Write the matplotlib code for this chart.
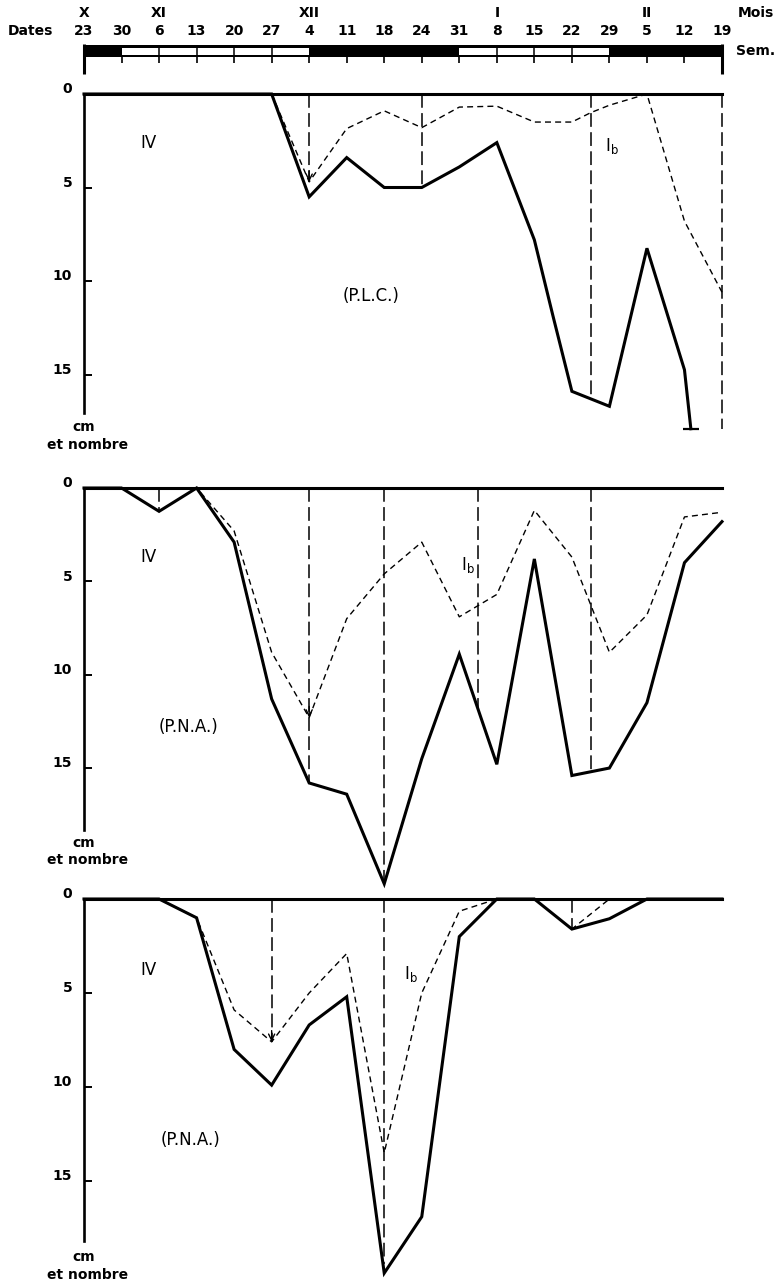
import matplotlib
matplotlib.use('Agg')
import matplotlib.pyplot as plt
from matplotlib.patches import Rectangle
from matplotlib.transforms import ScaledTranslation

plt.rcParams['font.family'] = ['DejaVu Sans']
plt.rcParams['mathtext.default'] = 'regular'

# ---------------- data ----------------
week_idx = list(range(18))
date_labels = ['23', '30', '6', '13', '20', '27', '4', '11', '18', '24',
               '31', '8', '15', '22', '29', '5', '12', '19']
month_labels = ['X', 'XI', 'XII', 'I', 'II']
month_pos = [0, 2, 6, 11, 15]
white_weeks = [(1, 6), (10, 14)]

ytick_vals = [0, 5, 10, 15]
ytick_labels = ['0', '5', '10', '15']

# panel 1 (P.L.C.)
p1_solid_x = [0, 1, 2, 3, 4, 5, 6, 7, 8, 9, 10, 11, 12, 12.5, 13, 14, 15, 16, 16.17]
p1_solid_y = [0, 0, 0, 0, 0, 0, 5.5, 3.4, 5.0, 5.0, 3.9, 2.6, 7.8, 11.9, 15.9, 16.7, 8.25, 14.75, 17.9]
p1_dash_x = [5, 6, 7, 8, 9, 10, 11, 12, 13, 13.5, 14, 15, 16, 17]
p1_dash_y = [0, 4.7, 1.85, 0.9, 1.8, 0.7, 0.65, 1.5, 1.5, 1.0, 0.6, 0, 6.8, 10.6]
p1_vl_x = [6, 9, 13.5, 17]
p1_vl_y = [4.7, 5.0, 16.3, 17.9]
p1_arrow_x = [6]
p1_arrow_y = [4.7]

# panel 2 (P.N.A.)
p2_solid_x = week_idx
p2_solid_y = [0, 0, 1.25, 0, 2.9, 11.3, 15.8, 16.4, 21.2, 14.5, 8.9, 14.8, 3.8, 15.4, 15.0, 11.5, 4.0, 1.8]
p2_dash_x = week_idx
p2_dash_y = [0, 0, 1.25, 0, 2.3, 8.8, 12.3, 7.0, 4.6, 2.9, 6.9, 5.7, 1.2, 3.7, 8.8, 6.8, 1.55, 1.3]
p2_vl_x = [2, 6, 8, 10.5, 13.5]
p2_vl_y = [1.25, 15.8, 21.2, 11.85, 15.2]
p2_arrow_x = [6]
p2_arrow_y = [12.3]

# panel 3 (P.N.A.)
p3_solid_x = week_idx
p3_solid_y = [0, 0, 0, 1.0, 8.0, 9.9, 6.7, 5.2, 19.9, 16.9, 2.0, 0, 0, 1.6, 1.05, 0, 0, 0]
p3_dash_x = week_idx
p3_dash_y = [0, 0, 0, 1.0, 5.9, 7.6, 5.0, 2.9, 13.5, 5.0, 0.65, 0, 0, 1.6, 0, 0, 0, 0]
p3_vl_x = [5, 8, 13]
p3_vl_y = [7.6, 19.4, 1.6]
p3_arrow_x = [5]
p3_arrow_y = [7.6]

# ---------------- layout ----------------
W, H = 781, 1283
fig = plt.figure(figsize=(W / 100, H / 100), dpi=100)
fig.patch.set_facecolor('white')

X0, X1 = 84, 722          # pixel x of week 0 and week 17
XPX = (X1 - X0) / 17.0


def px_axes(top, bottom):
    return fig.add_axes([X0 / W, 1 - bottom / H, (X1 - X0) / W, (bottom - top) / H])


def xi(px):
    return (px - X0) / XPX


BOLD = dict(fontsize=10, fontweight='bold', color='black')

# ---------------- header ----------------
hx = px_axes(0, 80)
hx.set_xlim(0, 17)
hx.set_ylim(80, 0)
hx.axis('off')
hx.patch.set_alpha(0)

for p, m in zip(month_pos, month_labels):
    hx.text(p, 13, m, ha='center', va='center', clip_on=False, **BOLD)
for p, d in zip(week_idx, date_labels):
    hx.text(p, 31, d, ha='center', va='center', clip_on=False, **BOLD)
hx.text(xi(30), 31, 'Dates', ha='center', va='center', clip_on=False, **BOLD)
hx.text(xi(756), 13, 'Mois', ha='center', va='center', clip_on=False, **BOLD)
hx.text(xi(756), 51, 'Sem.', ha='center', va='center', clip_on=False, **BOLD)

hx.add_patch(Rectangle((0, 45), 17, 12, facecolor='black', edgecolor='black', lw=0, clip_on=False))
for a, b in white_weeks:
    hx.add_patch(Rectangle((a, 47.6), b - a, 7.4, facecolor='white', edgecolor='none', clip_on=False))
    hx.vlines(list(range(a + 1, b)), 47.6, 55, color='black', lw=1.1, clip_on=False)
hx.vlines(week_idx[1:-1], 57, 63, color='black', lw=1.2, clip_on=False)
hx.vlines([0, 17], 44, 74, color='black', lw=2.2, clip_on=False)

# ---------------- panels ----------------
panels = [
    dict(zero=94, unit=18.7, ybot=18.5, spine=17.05,
         sx=p1_solid_x, sy=p1_solid_y, dx=p1_dash_x, dy=p1_dash_y,
         vx=p1_vl_x, vy=p1_vl_y, ax_=p1_arrow_x, ay=p1_arrow_y,
         labels=[('IV', xi(148), 2.6), ('I$_{b}$', xi(612), 2.8), ('(P.L.C.)', xi(371), 10.8)],
         cm=17.8, et=18.75, cap=True),
    dict(zero=488, unit=18.67, ybot=21.6, spine=18.3,
         sx=p2_solid_x, sy=p2_solid_y, dx=p2_dash_x, dy=p2_dash_y,
         vx=p2_vl_x, vy=p2_vl_y, ax_=p2_arrow_x, ay=p2_arrow_y,
         labels=[('IV', xi(148), 3.7), ('I$_{b}$', xi(468), 4.1), ('(P.N.A.)', xi(188), 12.8)],
         cm=19.0, et=19.9, cap=False),
    dict(zero=899, unit=18.8, ybot=20.2, spine=18.2,
         sx=p3_solid_x, sy=p3_solid_y, dx=p3_dash_x, dy=p3_dash_y,
         vx=p3_vl_x, vy=p3_vl_y, ax_=p3_arrow_x, ay=p3_arrow_y,
         labels=[('IV', xi(148), 3.8), ('I$_{b}$', xi(411), 4.0), ('(P.N.A.)', xi(190), 12.8)],
         cm=19.05, et=20.0, cap=False),
]

for P in panels:
    top = P['zero']
    bottom = top + P['unit'] * P['ybot']
    ax = px_axes(top, bottom)
    ax.patch.set_alpha(0)
    ax.set_xlim(0, 17)
    ax.set_ylim(P['ybot'], 0)
    for s in ['right', 'bottom']:
        ax.spines[s].set_visible(False)
    ax.spines['top'].set_linewidth(2.2)
    ax.spines['left'].set_linewidth(1.9)
    ax.spines['left'].set_bounds(0, P['spine'])
    ax.set_xticks([])
    ax.set_yticks(ytick_vals)
    ax.set_yticklabels(ytick_labels, fontsize=10, fontweight='bold')
    ax.tick_params(axis='y', direction='in', length=6, width=1.4, pad=8.5)
    for lab in ax.get_yticklabels():
        lab.set_transform(lab.get_transform() + ScaledTranslation(0, 4.5 / 72, fig.dpi_scale_trans))

    # vertical dashed markers
    for x, y in zip(P['vx'], P['vy']):
        ax.plot([x, x], [0, y], color='black', lw=1.1, dashes=(9, 3.5), clip_on=False)
    # thin dashed series
    ax.plot(P['dx'], P['dy'], color='black', lw=1.0, dashes=(4.3, 3.0), clip_on=False)
    # thick solid series
    ln, = ax.plot(P['sx'], P['sy'], color='black', lw=2.2, solid_joinstyle='miter',
                  clip_on=False)
    if P['cap']:
        ax.plot([P['sx'][-1]], [P['sy'][-1]], marker='_', ms=12, mew=1.6,
                color='black', clip_on=False)
    # arrowheads
    for x, y in zip(P['ax_'], P['ay']):
        ax.annotate('', xy=(x, y), xytext=(x, y - 0.6),
                    arrowprops=dict(arrowstyle='->,head_length=0.45,head_width=0.22',
                                    lw=1.0, color='black', shrinkA=0, shrinkB=0),
                    annotation_clip=False)
    # labels
    for txt, x, y in P['labels']:
        ax.text(x, y, txt, ha='center', va='center', fontsize=12, color='black', clip_on=False)
    ax.text(0, P['cm'], 'cm', ha='center', va='center', clip_on=False, **BOLD)
    ax.text(xi(88), P['et'], 'et nombre', ha='center', va='center', clip_on=False, **BOLD)

fig.savefig('out.png', dpi=100, facecolor='white')
